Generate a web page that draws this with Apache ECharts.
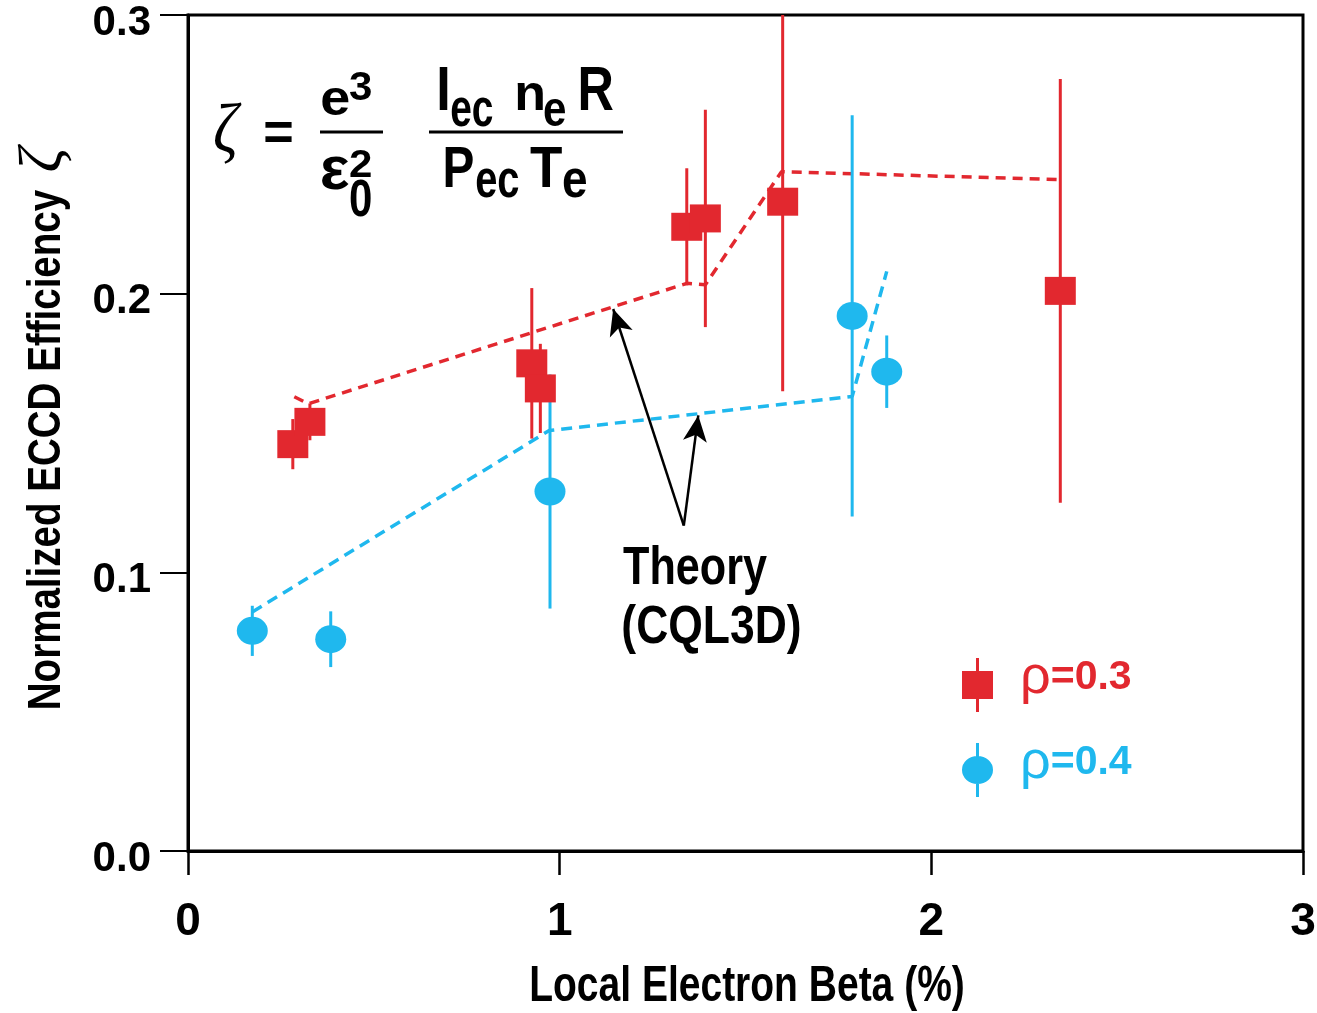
<!DOCTYPE html>
<html>
<head>
<meta charset="utf-8">
<script src="https://cdn.jsdelivr.net/npm/echarts@6/dist/echarts.min.js"></script>
<style>
  html, body { margin: 0; padding: 0; background: #fff; }
  #chart { width: 1317px; height: 1013px; }
</style>
</head>
<body>
<div id="chart"></div>
<script>
// measured data, rho = 0.3 (red squares)
var redX = [0.282, 0.328, 0.925, 0.948, 1.342, 1.392, 1.600, 2.347];
var redY = [0.146, 0.154, 0.175, 0.166, 0.224, 0.227, 0.233, 0.201];
var redErr = [0.009, 0.0066, 0.027, 0.016, 0.021, 0.039, 0.068, 0.076];

// measured data, rho = 0.4 (blue circles)
var blueX = [0.173, 0.384, 0.974, 1.787, 1.880];
var blueY = [0.079, 0.076, 0.129, 0.192, 0.172];
var blueErr = [0.009, 0.010, 0.042, 0.072, 0.013];

// theory (CQL3D) dashed curves
var theoryRedX = [0.286, 0.324, 1.342, 1.392, 1.597, 2.348];
var theoryRedY = [0.163, 0.1605, 0.2037, 0.2032, 0.2438, 0.2409];
var theoryBlueX = [0.173, 0.972, 1.787, 1.880];
var theoryBlueY = [0.0858, 0.1509, 0.1631, 0.208];

// annotation arrows: common base and two tips
var arrowBase = [1.334, 0.1168];
var arrowTips = [[1.144, 0.1945], [1.373, 0.1563]];

var xTicks = [0, 1, 2, 3];
var yTicks = [0.0, 0.1, 0.2, 0.3];

var RED = '#e2282f';
var BLUE = '#1fb8ee';
var FONT = "'Liberation Sans', Arial, sans-serif";
var LABEL_FONT = "'Liberation Sans Narrow', 'Liberation Sans', Arial, sans-serif";

var chart = echarts.init(document.getElementById('chart'));

function pairs(xs, ys) {
  return xs.map(function (x, i) { return [x, ys[i]]; });
}
function errData(xs, ys, es) {
  return xs.map(function (x, i) { return [x, ys[i] - es[i], ys[i] + es[i]]; });
}
function errBars(color) {
  return function (params, api) {
    var lo = api.coord([api.value(0), api.value(1)]);
    var hi = api.coord([api.value(0), api.value(2)]);
    return {
      type: 'line',
      shape: { x1: lo[0], y1: lo[1], x2: hi[0], y2: hi[1] },
      style: { stroke: color, lineWidth: 3 }
    };
  };
}

// annotation text squeezed into the box it has in the picture (condensed bold look)
var ctx = document.createElement('canvas').getContext('2d');
function glyph(s, font, left, right, top, bottom) {
  ctx.font = font;
  ctx.textBaseline = 'middle';
  var m = ctx.measureText(s);
  var sx = (right - left) / (m.actualBoundingBoxLeft + m.actualBoundingBoxRight);
  var sy = bottom ? (bottom - top) / (m.actualBoundingBoxAscent + m.actualBoundingBoxDescent) : 1;
  return {
    type: 'text', silent: true, z: 10,
    x: left + m.actualBoundingBoxLeft * sx,
    y: top + m.actualBoundingBoxAscent * sy,
    scaleX: sx, scaleY: sy,
    style: { text: s, font: font, fill: '#000', align: 'left', verticalAlign: 'middle' }
  };
}
function bar(x1, x2, y) {
  return { type: 'line', silent: true, z: 10,
    shape: { x1: x1, y1: y, x2: x2, y2: y }, style: { stroke: '#000', lineWidth: 3 } };
}

var M = 'bold 58px ' + FONT;
var S = 'bold 46px ' + FONT;
var formula = [
  glyph('ζ', 'italic 64px "Liberation Serif", serif', 215, 242, 102, 165),
  glyph('=', M, 265, 292, 123, 143),
  glyph('e', M, 322, 349, 88, 116),
  glyph('3', S, 350, 371, 72, 100),
  bar(320, 383, 132),
  glyph('ε', M, 322, 349, 156, 190),
  glyph('2', S, 350, 371, 150, 177),
  glyph('0', S, 350, 371, 180, 216),
  glyph('I', M, 439, 448, 67, 110),
  glyph('ec', S, 451, 493, 97, 126),
  glyph('n', M, 517, 543, 83, 110),
  glyph('e', S, 544, 566, 99, 126),
  glyph('R', M, 580, 613, 67, 110),
  bar(429, 623, 132),
  glyph('P', M, 445, 473, 147, 187),
  glyph('ec', S, 476, 519, 168, 197),
  glyph('T', M, 530, 562, 147, 187),
  glyph('e', S, 563, 587, 168, 197)
];

var labels = [
  glyph('Theory', 'bold 54px ' + FONT, 623, 767, 545),
  glyph('(CQL3D)', 'bold 54px ' + FONT, 623, 800, 604),
  // axis titles
  { type: 'text', x: 747, y: 987, scaleX: 0.78, silent: true, z: 10,
    style: { text: 'Local Electron Beta (%)', font: 'bold 50px ' + FONT, fill: '#000',
      align: 'center', verticalAlign: 'middle' } },
  { type: 'text', x: 47, y: 450, rotation: Math.PI / 2, scaleX: 0.82, silent: true, z: 10,
    style: { text: 'Normalized ECCD Efficiency', font: 'bold 47px ' + FONT, fill: '#000',
      align: 'center', verticalAlign: 'middle' } },
  { type: 'text', x: 45, y: 160, rotation: Math.PI / 2, silent: true, z: 10,
    style: { text: 'ζ', font: 'italic 62px "Liberation Serif", serif', fill: '#000',
      align: 'center', verticalAlign: 'middle' } }
];

var ellipse = 'path://M0,14A15.5,14 0 1,1 31,14A15.5,14 0 1,1 0,14Z';
var redIcon = 'path://M0,13L31,13L31,41L0,41ZM14,0L17,0L17,54L14,54Z';
var blueIcon = 'path://M0,27A15.5,14 0 1,1 31,27A15.5,14 0 1,1 0,27ZM14,0L17,0L17,54L14,54Z';

chart.setOption({
  animation: false,
  backgroundColor: '#fff',
  grid: {
    left: 188, right: 14, top: 15, bottom: 162,
    outerBoundsMode: 'none',
    show: true, borderColor: '#000', borderWidth: 3
  },
  xAxis: {
    type: 'value', min: xTicks[0], max: xTicks[xTicks.length - 1], interval: 1,
    axisLine: { show: true, lineStyle: { color: '#000', width: 3 } },
    axisTick: { show: true, length: 24, lineStyle: { color: '#000', width: 2.5 } },
    axisLabel: { margin: 48, color: '#000', fontSize: 46, fontWeight: 'bold', fontFamily: LABEL_FONT },
    splitLine: { show: false }
  },
  yAxis: {
    type: 'value', min: yTicks[0], max: yTicks[yTicks.length - 1], interval: 0.1,
    axisLine: { show: true, lineStyle: { color: '#000', width: 3 } },
    axisTick: { show: true, length: 28, lineStyle: { color: '#000', width: 2 } },
    axisLabel: {
      margin: 37, color: '#000',
      formatter: function (v) { return '{t|' + v.toFixed(1) + '}'; },
      rich: {
        t: { fontSize: 42, fontWeight: 'bold', fontFamily: LABEL_FONT, color: '#000', padding: [16, 0, 0, 0] }
      }
    },
    splitLine: { show: false }
  },
  legend: {
    orient: 'vertical', left: 962, top: 651, padding: 0,
    itemWidth: 31, itemHeight: 54, itemGap: 24,
    selectedMode: false,
    data: [
      { name: 'ρ=0.3', icon: redIcon },
      { name: 'ρ=0.4', icon: blueIcon }
    ],
    formatter: function (name) {
      var k = name === 'ρ=0.3' ? '3' : '4';
      return '{r' + k + '|ρ}{b' + k + '|' + name.slice(1) + '}';
    },
    textStyle: {
      padding: [0, 0, 14, 22],
      rich: {
        r3: { color: RED, fontSize: 54, lineHeight: 40, fontFamily: FONT },
        b3: { color: RED, fontSize: 41, lineHeight: 40, fontWeight: 'bold', fontFamily: LABEL_FONT },
        r4: { color: BLUE, fontSize: 54, lineHeight: 40, fontFamily: FONT },
        b4: { color: BLUE, fontSize: 41, lineHeight: 40, fontWeight: 'bold', fontFamily: LABEL_FONT }
      }
    }
  },
  graphic: formula.concat(labels),
  series: [
    {
      name: 'theoryRed', type: 'line', data: pairs(theoryRedX, theoryRedY),
      symbol: 'none', z: 1,
      lineStyle: { color: RED, width: 3.5, type: [10, 7] }
    },
    {
      name: 'theoryBlue', type: 'line', data: pairs(theoryBlueX, theoryBlueY),
      symbol: 'none', z: 1,
      lineStyle: { color: BLUE, width: 3.5, type: [11, 7] },
      markLine: {
        silent: true, symbol: ['none', 'arrow'], symbolSize: [18, 26],
        label: { show: false },
        lineStyle: { color: '#000', width: 2.5, type: 'solid' },
        data: arrowTips.map(function (t) {
          return [{ coord: arrowBase }, { coord: t }];
        })
      }
    },
    {
      name: 'redErr', type: 'custom', data: errData(redX, redY, redErr),
      renderItem: errBars(RED), clip: true, z: 2,
      encode: { x: 0, y: [1, 2] }
    },
    {
      name: 'blueErr', type: 'custom', data: errData(blueX, blueY, blueErr),
      renderItem: errBars(BLUE), clip: true, z: 2,
      encode: { x: 0, y: [1, 2] }
    },
    {
      name: 'ρ=0.3', type: 'scatter', data: pairs(redX, redY),
      symbol: 'rect', symbolSize: [31, 28], z: 3,
      itemStyle: { color: RED, opacity: 1 }
    },
    {
      name: 'ρ=0.4', type: 'scatter', data: pairs(blueX, blueY),
      symbol: ellipse, symbolSize: [31, 28], z: 3,
      itemStyle: { color: BLUE, opacity: 1 }
    }
  ]
});
</script>
</body>
</html>
